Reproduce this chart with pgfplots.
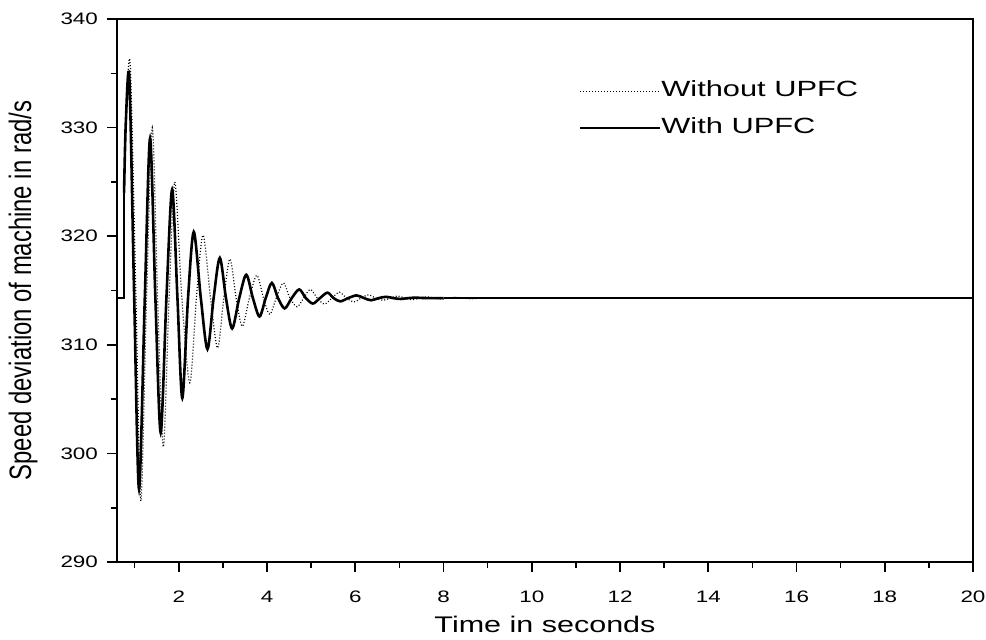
\documentclass[border=0pt]{standalone}
\usepackage{fontspec}
\setmainfont{Liberation Sans}
\newfontfamily\wfont[FakeStretch=1.35]{Liberation Sans}
\newfontfamily\lfont[FakeStretch=1.4]{Liberation Sans}
\newfontfamily\yfont[FakeStretch=0.77]{Liberation Sans}
\usepackage{pgfplots}
\pgfplotsset{compat=1.18}
\begin{document}
\begin{tikzpicture}
\begin{axis}[
  name=ax,
  scale only axis,
  width=428pt, height=271.5pt,
  xmin=0.6, xmax=20, ymin=290, ymax=340,
  xtick={2,4,...,20}, minor xtick={1,3,...,19},
  ytick={290,300,...,340}, minor ytick={295,305,...,335},
  tick pos=left, tick align=outside,
  major tick length=5pt, minor tick length=3pt,
  every tick/.style={black, line width=0.8pt},
  axis line style={line width=1pt},
  /pgf/number format/assume math mode=true,
  tick label style={font=\wfont\fontsize{8.3}{10}\selectfont},
  xticklabel style={yshift=-6pt},
  yticklabel style={xshift=-1pt},
  xlabel={Time in seconds},
  ylabel={Speed deviation of machine in rad/s},
  xlabel style={font=\wfont\fontsize{11.3}{13}\selectfont, at={(rel axis cs:0.5,0)}, anchor=center, yshift=-31pt},
  ylabel style={font=\yfont\fontsize{15.5}{18}\selectfont, at={(rel axis cs:0,0.5)}, anchor=center, yshift=47pt},
  legend style={draw=none, fill=none, at={(0.532,0.833)}, anchor=west,
    font=\lfont\fontsize{11}{13}\selectfont, row sep=8pt,
    nodes={inner sep=0pt, text height=8pt, text depth=2.5pt},
    /tikz/every even column/.append style={column sep=5pt}},
  legend cell align=left,
  legend image code/.code={\draw[#1] (0pt,0pt) -- (40pt,0pt);},
]
\addplot[black, line width=0.6pt, dash pattern=on 0.5pt off 1pt, smooth] coordinates {
(0.76,324.0) (0.81,331.0) (0.90,335.8) (1.03,314.3) (1.14,295.6) (1.27,314.3) (1.40,330.0) (1.52,314.3) (1.65,300.6) (1.78,314.3) (1.91,325.0) (2.07,314.3) (2.25,306.5) (2.40,314.3) (2.55,320.1) (2.72,314.3) (2.88,309.7) (3.02,314.3) (3.16,317.9) (3.30,314.3) (3.44,311.7) (3.60,314.3) (3.77,316.4) (3.92,314.3) (4.06,312.8) (4.21,314.3) (4.37,315.7) (4.52,314.3) (4.68,313.5) (4.83,314.3) (4.98,315.1) (5.14,314.3) (5.30,313.75) (5.47,314.3) (5.64,314.85) (5.80,314.3) (5.97,313.95) (6.13,314.3) (6.30,314.6) (6.46,314.3) (6.63,314.1) (6.80,314.3) (6.96,314.5) (7.12,314.3) (7.29,314.15) (7.45,314.3) (7.62,314.42) (7.78,314.3) (7.95,314.2) (8.11,314.3) (8.28,314.38) (8.44,314.3) (8.60,314.24) (8.9,314.3) (9.2,314.3)
};
\addlegendentry{Without UPFC}
\addplot[black, line width=1.3pt, smooth] coordinates {
(0.76,324.0) (0.80,330.5) (0.88,334.6) (0.99,314.3) (1.10,296.7) (1.23,314.3) (1.35,329.0) (1.47,314.3) (1.59,301.9) (1.72,314.3) (1.85,324.3) (1.97,314.3) (2.08,305.1) (2.21,314.3) (2.34,320.4) (2.50,314.3) (2.65,309.6) (2.79,314.3) (2.93,318.0) (3.07,314.3) (3.21,311.5) (3.37,314.3) (3.53,316.45) (3.68,314.3) (3.83,312.6) (3.97,314.3) (4.11,315.7) (4.25,314.3) (4.40,313.35) (4.56,314.3) (4.73,315.1) (4.88,314.3) (5.04,313.8) (5.20,314.3) (5.37,314.8) (5.51,314.3) (5.66,314.0) (5.84,314.3) (6.03,314.55) (6.20,314.3) (6.36,314.1) (6.53,314.3) (6.70,314.42) (6.86,314.3) (7.03,314.22) (7.20,314.3) (7.36,314.34) (7.6,314.3) (8.0,314.3)
};
\addlegendentry{With UPFC}
\addplot[black, line width=1.3pt, forget plot] coordinates {(0.6,314.3) (0.76,314.3) (0.76,324.0)};
\addplot[black, line width=1.3pt, forget plot] coordinates {(8.0,314.3) (20,314.3)};
\end{axis}
\pgfresetboundingbox
\path ([shift={(-58.5pt,-38.5pt)}]ax.south west) rectangle ([shift={(6.5pt,9.5pt)}]ax.north east);
\end{tikzpicture}
\end{document}
